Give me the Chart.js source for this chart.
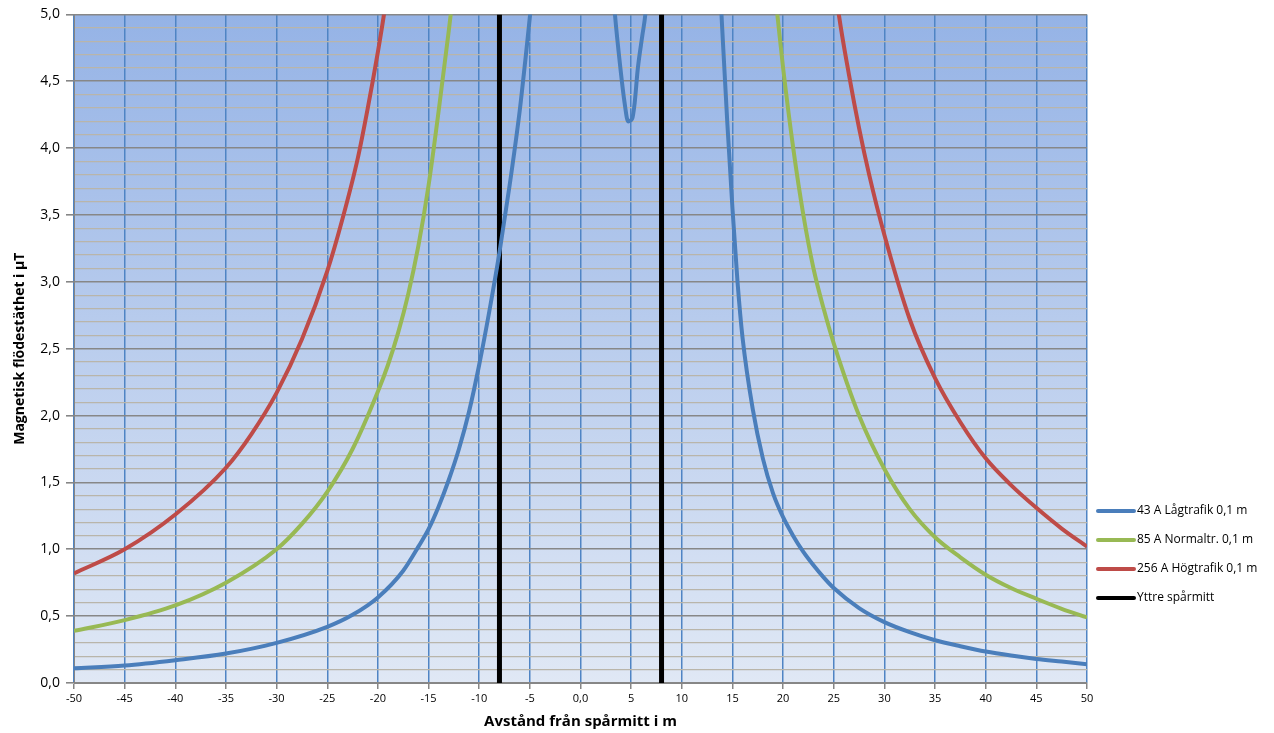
<!DOCTYPE html>
<html>
<head>
<meta charset="utf-8">
<script src="https://cdn.jsdelivr.net/npm/chart.js@4/dist/chart.umd.min.js"></script>
<style>
  html, body { margin: 0; padding: 0; background: #fff; }
  #wrap { width: 1274px; height: 733px; }
</style>
</head>
<body>
<div id="wrap"><canvas id="myChart" width="1274" height="733"></canvas></div>
<script>
// Series names
const seriesNames = ['43 A Lågtrafik 0,1 m', '85 A Normaltr. 0,1 m', '256 A Högtrafik 0,1 m', 'Yttre spårmitt'];

// 43 A Lågtrafik (values above 5,0 run off the top of the plot)
const lagX = [-50, -45, -40, -35, -30, -25, -22.5, -20, -17.5, -16, -15, -14, -13, -12, -11, -10, -9, -8, -7, -6, -5.5, -5, -4.5, -1,
  2.8, 3.4, 3.95, 4.35, 4.7, 5.1, 5.35, 5.65, 6.1, 6.4, 7, 10,
  13.5, 14, 14.5, 15, 15.5, 16, 17, 18, 19, 20, 21, 22, 23, 24, 25, 27.5, 30, 32.5, 35, 37.5, 40, 42.5, 45, 47.5, 50];
const lagY = [0.11, 0.13, 0.17, 0.22, 0.30, 0.42, 0.51, 0.64, 0.84, 1.02, 1.15, 1.32, 1.52, 1.75, 2.03, 2.38, 2.78, 3.22, 3.72, 4.28, 4.62, 4.98, 5.40, 8.00,
  5.60, 5.00, 4.59, 4.34, 4.20, 4.22, 4.34, 4.59, 4.84, 5.00, 5.60, 8.00,
  5.60, 4.88, 4.18, 3.55, 3.00, 2.58, 2.05, 1.68, 1.42, 1.24, 1.10, 0.98, 0.88, 0.79, 0.71, 0.56, 0.455, 0.38, 0.32, 0.275, 0.235, 0.205, 0.18, 0.16, 0.14];

// 85 A Normaltrafik
const normX = [-50, -45, -40, -35, -30, -27.5, -25, -22.5, -20, -19, -18, -17, -16, -15, -14, -13, -12.5, -12, 0,
  19, 19.5, 20, 21, 22, 23, 24, 25, 27.5, 30, 32.5, 35, 37.5, 40, 42.5, 45, 47.5, 50];
const normY = [0.39, 0.47, 0.58, 0.75, 1.00, 1.19, 1.43, 1.75, 2.18, 2.38, 2.62, 2.91, 3.27, 3.72, 4.28, 4.88, 5.20, 5.50, 12,
  5.30, 4.95, 4.60, 4.00, 3.50, 3.10, 2.80, 2.54, 2.00, 1.60, 1.30, 1.09, 0.94, 0.81, 0.71, 0.63, 0.555, 0.49];

// 256 A Högtrafik
const hogX = [-50, -45, -40, -35, -32.5, -30, -27.5, -25, -23.5, -22, -21, -20, -19.4, -18.5, 0,
  25, 25.5, 26.5, 27.5, 28.5, 30, 32.5, 35, 37.5, 40, 42.5, 45, 47.5, 50];
const hogY = [0.82, 1.00, 1.26, 1.61, 1.86, 2.17, 2.57, 3.08, 3.47, 3.92, 4.30, 4.72, 5.00, 5.50, 15,
  5.30, 5.00, 4.55, 4.15, 3.80, 3.35, 2.72, 2.28, 1.95, 1.68, 1.48, 1.31, 1.155, 1.02];

// Yttre spårmitt
const trackX = [-8, 8];

// Axis ticks
const yMin = 0, yMax = 5, yMajor = 0.5, yMinor = 0.1;
const xMin = -50, xMax = 50, xStep = 5;

const pts = (xs, ys) => xs.map((x, i) => ({ x: x, y: ys[i] }));
const trackData = [
  { x: trackX[0], y: yMin }, { x: trackX[0], y: yMax },
  { x: 0, y: null },
  { x: trackX[1], y: yMax }, { x: trackX[1], y: yMin }
];

const isMajor = v => Math.abs(v / yMajor - Math.round(v / yMajor)) < 1e-6;

// plot background gradient
const bgPlugin = {
  id: 'plotBg',
  beforeDraw(chart) {
    const a = chart.chartArea, ctx = chart.ctx;
    const g = ctx.createLinearGradient(0, a.top, 0, a.bottom);
    g.addColorStop(0, '#95b3e6');
    g.addColorStop(1, '#e0e8f5');
    ctx.save();
    ctx.fillStyle = g;
    ctx.fillRect(a.left, a.top, a.right - a.left, a.bottom - a.top);
    ctx.restore();
  }
};

// legend at lower right, like the original
const sideLegend = {
  id: 'sideLegend',
  afterDraw(chart) {
    const ctx = chart.ctx;
    ctx.save();
    ctx.font = '12px "Open Sans", "Liberation Sans", sans-serif';
    ctx.textBaseline = 'middle';
    chart.data.datasets.forEach((ds, i) => {
      const y = 511 + i * 29;
      ctx.strokeStyle = ds.borderColor;
      ctx.lineWidth = 4;
      ctx.lineCap = 'round';
      ctx.beginPath();
      ctx.moveTo(1098, y);
      ctx.lineTo(1134, y);
      ctx.stroke();
      ctx.fillStyle = '#000';
      ctx.fillText(ds.label, 1137, y);
    });
    ctx.restore();
  }
};

const lineOpts = { showLine: true, pointRadius: 0, borderWidth: 4, cubicInterpolationMode: 'monotone', fill: false };

const ctx = document.getElementById('myChart').getContext('2d');
const myChart = new Chart(ctx, {
  type: 'scatter',
  data: {
    datasets: [
      Object.assign({ label: seriesNames[0], data: pts(lagX, lagY), borderColor: '#4a7ebb' }, lineOpts),
      Object.assign({ label: seriesNames[1], data: pts(normX, normY), borderColor: '#98b954' }, lineOpts),
      Object.assign({ label: seriesNames[2], data: pts(hogX, hogY), borderColor: '#be4b48' }, lineOpts),
      { label: seriesNames[3], data: trackData, borderColor: '#000000', showLine: true, pointRadius: 0, borderWidth: 5, tension: 0, spanGaps: false }
    ]
  },
  options: {
    responsive: false,
    animation: false,
    layout: { padding: { left: 0, right: 187, top: 12, bottom: 0 } },
    scales: {
      x: {
        type: 'linear',
        min: xMin,
        max: xMax,
        afterFit: s => { s.height = 50; },
        border: { color: '#868686', width: 1 },
        grid: { color: '#4f84c4', lineWidth: 1.5, tickColor: '#868686', tickLength: 6 },
        ticks: {
          stepSize: xStep,
          autoSkip: false,
          maxRotation: 0,
          padding: 3,
          color: '#000',
          font: { family: '"Open Sans", "Liberation Sans", sans-serif', size: 11 },
          callback: v => (v === 0 ? '0,0' : String(v))
        },
        title: {
          display: true,
          text: 'Avstånd från spårmitt i m',
          color: '#000',
          font: { family: '"Open Sans", "Liberation Sans", sans-serif', size: 15, weight: 'bold' },
          padding: { top: 0, bottom: 2 }
        }
      },
      y: {
        min: yMin,
        max: yMax,
        afterFit: s => { s.width = 74; },
        border: { color: '#868686', width: 1 },
        grid: {
          color: c => (isMajor(c.tick.value) ? '#878787' : '#b9b5aa'),
          lineWidth: c => (isMajor(c.tick.value) ? 1.6 : 1.2),
          tickColor: c => (isMajor(c.tick.value) ? '#868686' : 'rgba(0,0,0,0)'),
          tickLength: 8
        },
        ticks: {
          stepSize: yMinor,
          autoSkip: false,
          padding: 6,
          color: '#000',
          font: { family: '"Open Sans", "Liberation Sans", sans-serif', size: 14 },
          callback: v => (isMajor(v) ? v.toFixed(1).replace('.', ',') : '')
        },
        title: {
          display: true,
          text: 'Magnetisk flödestäthet i µT',
          color: '#000',
          font: { family: '"Open Sans", "Liberation Sans", sans-serif', size: 14, weight: 'bold' },
          padding: { top: 12, bottom: 0 }
        }
      }
    },
    plugins: {
      legend: { display: false },
      tooltip: { enabled: false }
    }
  },
  plugins: [bgPlugin, sideLegend]
});
</script>
</body>
</html>
